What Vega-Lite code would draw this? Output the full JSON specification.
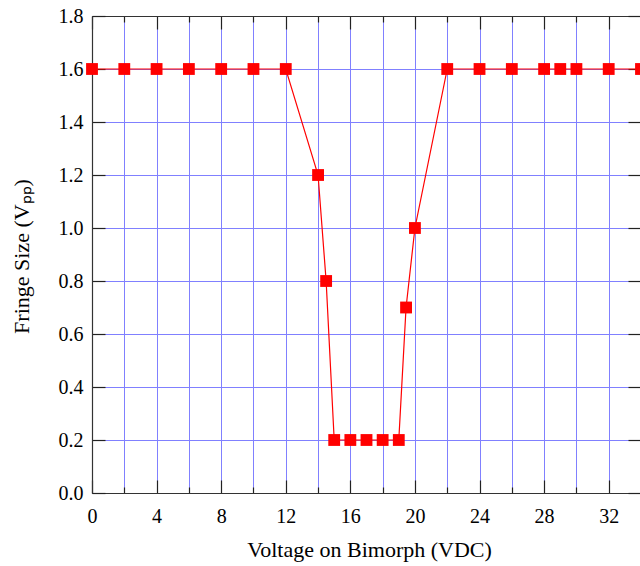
{
  "$schema": "https://vega.github.io/schema/vega-lite/v6.json",
  "width": 549,
  "height": 477,
  "autosize": "none",
  "padding": {"left": 92, "top": 16, "right": 0, "bottom": 73},
  "background": "white",
  "config": {
    "view": {"stroke": null},
    "axis": {"labelFont": "Liberation Serif", "titleFont": "Liberation Serif", "labelColor": "black", "titleColor": "black", "labelFontSize": 20, "titleFontSize": 22, "titleFontWeight": "normal", "titleBaseline": "alphabetic", "labelFlush": false, "domainColor": "#333333", "tickColor": "#222222", "domainWidth": 1.2, "tickWidth": 1.2}
  },
  "data": {"values": [
    {"v": 0, "f": 1.6}, {"v": 2, "f": 1.6}, {"v": 4, "f": 1.6}, {"v": 6, "f": 1.6},
    {"v": 8, "f": 1.6}, {"v": 10, "f": 1.6}, {"v": 12, "f": 1.6}, {"v": 14, "f": 1.2},
    {"v": 14.5, "f": 0.8}, {"v": 15, "f": 0.2}, {"v": 16, "f": 0.2}, {"v": 17, "f": 0.2},
    {"v": 18, "f": 0.2}, {"v": 19, "f": 0.2}, {"v": 19.45, "f": 0.7}, {"v": 20, "f": 1.0},
    {"v": 22, "f": 1.6}, {"v": 24, "f": 1.6}, {"v": 26, "f": 1.6}, {"v": 28, "f": 1.6},
    {"v": 29, "f": 1.6}, {"v": 30, "f": 1.6}, {"v": 32, "f": 1.6}, {"v": 34, "f": 1.6}
  ]},
  "layer": [
    {
      "mark": {"type": "line", "color": "#ff0000", "strokeWidth": 1.2, "clip": false},
      "encoding": {
        "x": {"field": "v", "type": "quantitative", "scale": {"domain": [0, 34], "nice": false},
          "axis": {"orient": "bottom", "title": "Voltage on Bimorph (VDC)", "values": [0,2,4,6,8,10,12,14,16,18,20,22,24,26,28,30,32,34],
            "labelExpr": "datum.value % 4 === 0 ? datum.label : ''",
            "tickSize": {"condition": {"test": "datum.value % 4 === 0", "value": -13}, "value": -6},
            "labelPadding": 26, "titleY": 63, "titleX": 277, "grid": true, "gridColor": "#8080ff", "gridOpacity": 1, "gridWidth": 1}},
        "y": {"field": "f", "type": "quantitative", "scale": {"domain": [0, 1.8], "nice": false},
          "axis": {"orient": "left", "title": "Fringe Size (Vₚₚ)", "values": [0,0.2,0.4,0.6,0.8,1.0,1.2,1.4,1.6,1.8], "format": ".1f",
            "tickSize": -13, "labelPadding": 22, "titleX": -64, "titleY": 240, "grid": true, "gridColor": "#8080ff", "gridOpacity": 1, "gridWidth": 1}}
      }
    },
    {
      "mark": {"type": "square", "color": "#ff0000", "size": 140, "opacity": 1, "filled": true, "clip": false},
      "encoding": {
        "x": {"field": "v", "type": "quantitative", "axis": null},
        "y": {"field": "f", "type": "quantitative", "axis": null}
      }
    },
    {
      "mark": {"type": "point", "opacity": 0},
      "encoding": {
        "x": {"field": "v", "type": "quantitative",
          "axis": {"orient": "top", "title": null, "labels": false, "values": [0,2,4,6,8,10,12,14,16,18,20,22,24,26,28,30,32,34],
            "tickSize": {"condition": {"test": "datum.value % 4 === 0", "value": -13}, "value": -6}, "grid": false}},
        "y": {"field": "f", "type": "quantitative",
          "axis": {"orient": "right", "title": null, "labels": false, "values": [0,0.2,0.4,0.6,0.8,1.0,1.2,1.4,1.6,1.8], "tickSize": -13, "grid": false}}
      }
    }
  ],
  "resolve": {"axis": {"x": "independent", "y": "independent"}}
}
